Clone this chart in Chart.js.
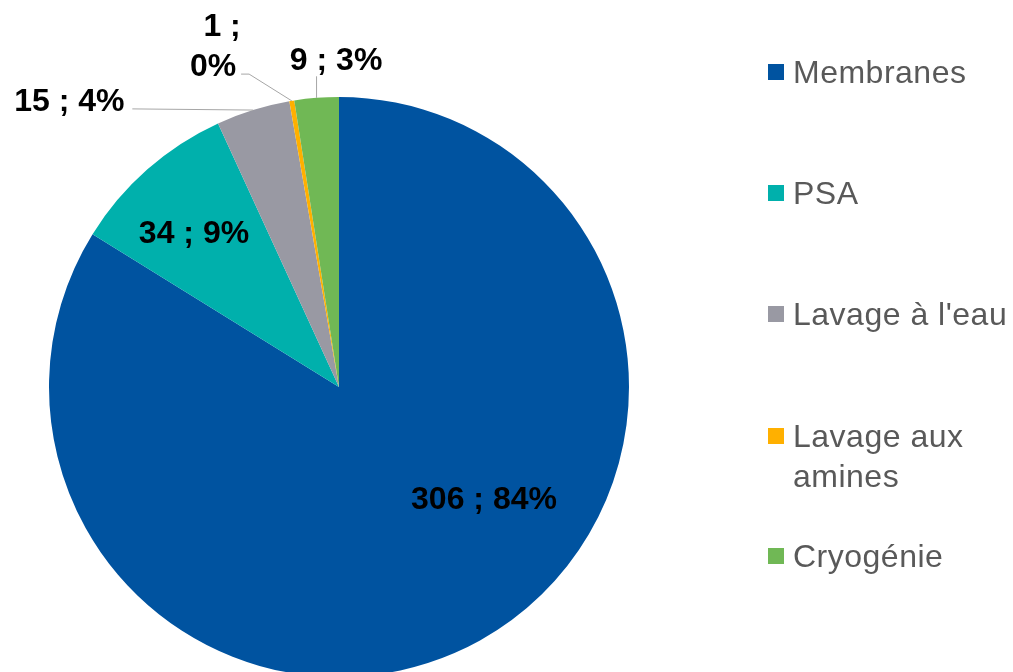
<!DOCTYPE html>
<html>
<head>
<meta charset="utf-8">
<script src="https://cdn.jsdelivr.net/npm/chart.js@4/dist/chart.umd.min.js"></script>
<style>
  html, body { margin: 0; padding: 0; background: #fff; overflow: hidden; }
  #wrap { position: relative; width: 1013px; height: 700px; }
</style>
</head>
<body>
<div id="wrap"><canvas id="chart" width="1013" height="700"></canvas></div>
<script>
// data
const categories = ['Membranes', 'PSA', "Lavage à l'eau", 'Lavage aux amines', 'Cryogénie'];
const values = [306, 34, 15, 1, 9];
const percents = [84, 9, 4, 0, 3];
const colors = ['#0053A0', '#00B0AC', '#9999A3', '#FFB000', '#70B855'];
const legendLines = [['Membranes'], ['PSA'], ["Lavage à l'eau"], ['Lavage aux', 'amines'], ['Cryogénie']];

// label placement, as offsets from the pie centre in radius units
const labelPos = [[0.50, 0.385], [-0.50, -0.535], [-0.93, -0.99], [-0.41, -1.11], [-0.01, -1.13]];
const labelWrap = [false, false, false, true, false];
const leader = [false, false, true, true, true];

const labelText = values.map((v, i) => v + ' ; ' + percents[i] + '%');

const labelsPlugin = {
  id: 'pieLabels',
  afterDatasetsDraw(chart) {
    const ctx = chart.ctx;
    const arcs = chart.getDatasetMeta(0).data;
    ctx.save();
    ctx.font = 'bold 32px "Liberation Sans", Arial, sans-serif';
    ctx.fillStyle = '#000';
    ctx.textAlign = 'center';
    ctx.textBaseline = 'middle';
    arcs.forEach((arc, i) => {
      const r = arc.outerRadius;
      const lx = arc.x + labelPos[i][0] * r;
      const ly = arc.y + labelPos[i][1] * r;
      if (leader[i]) {
        const mid = (arc.startAngle + arc.endAngle) / 2;
        const ex = arc.x + Math.cos(mid) * r;
        const ey = arc.y + Math.sin(mid) * r;
        ctx.strokeStyle = '#A6A6A6';
        ctx.lineWidth = 1;
        ctx.beginPath();
        if (i === 2) {
          ctx.moveTo(lx + 63, ly + 9);
          ctx.lineTo(ex, ey);
        } else if (i === 3) {
          ctx.moveTo(lx + 21, ly + 9);
          ctx.lineTo(lx + 29, ly + 9);
          ctx.lineTo(ex, ey);
        } else {
          ctx.moveTo(ex, ly + 17);
          ctx.lineTo(ex, ey);
        }
        ctx.stroke();
      }
      if (labelWrap[i]) {
        const parts = labelText[i].split(' ; ');
        ctx.fillText(parts[0] + ' ;', lx + 2, ly - 38);
        ctx.fillText(parts[1], lx - 7, ly + 2);
      } else {
        ctx.fillText(labelText[i], lx, ly + 2);
      }
    });
    ctx.restore();
  }
};

const legendPlugin = {
  id: 'sideLegend',
  afterDraw(chart) {
    const ctx = chart.ctx;
    const x0 = 768;
    const rowY = [73, 194, 315, 437, 557];
    ctx.save();
    ctx.font = '32px "Liberation Sans", Arial, sans-serif';
    ctx.letterSpacing = '0.5px';
    ctx.textBaseline = 'middle';
    ctx.textAlign = 'left';
    categories.forEach((c, i) => {
      ctx.fillStyle = colors[i];
      ctx.fillRect(x0, rowY[i] - 9, 16, 16);
      ctx.fillStyle = '#595959';
      legendLines[i].forEach((line, k) => {
        ctx.fillText(line, x0 + 25, rowY[i] + 1 + k * 40);
      });
    });
    ctx.restore();
  }
};

new Chart(document.getElementById('chart').getContext('2d'), {
  type: 'pie',
  data: {
    labels: categories,
    datasets: [{
      data: values,
      backgroundColor: colors,
      borderWidth: 0,
    }],
  },
  options: {
    responsive: false,
    animation: false,
    layout: { padding: { left: 49, right: 384, top: 97, bottom: 23 } },
    plugins: {
      legend: { display: false },
      tooltip: { enabled: false },
    },
  },
  plugins: [labelsPlugin, legendPlugin],
});
</script>
</body>
</html>
